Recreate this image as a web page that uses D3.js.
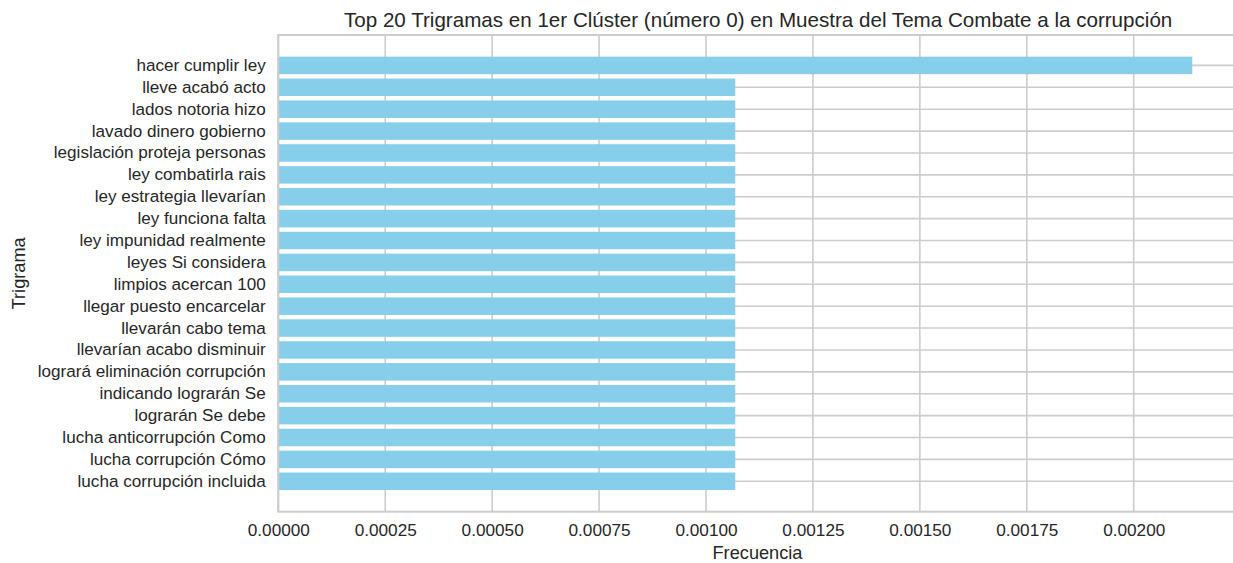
<!DOCTYPE html>
<html>
<head>
<meta charset="utf-8">
<script src="https://cdn.jsdelivr.net/npm/d3@7"></script>
<style>
  body { margin: 0; background: #fff; }
  text { font-family: "Liberation Sans", Arial, sans-serif; fill: #262626; }
</style>
</head>
<body>
<svg id="chart" width="1233" height="563"></svg>
<script>
// trigram labels, top to bottom
const trigrams = [
  "hacer cumplir ley", "lleve acabó acto", "lados notoria hizo", "lavado dinero gobierno",
  "legislación proteja personas", "ley combatirla rais", "ley estrategia llevarían",
  "ley funciona falta", "ley impunidad realmente", "leyes Si considera",
  "limpios acercan 100", "llegar puesto encarcelar", "llevarán cabo tema",
  "llevarían acabo disminuir", "logrará eliminación corrupción", "indicando lograrán Se",
  "lograrán Se debe", "lucha anticorrupción Como", "lucha corrupción Cómo",
  "lucha corrupción incluida"
];
const frecuencias = [
  0.002137, 0.0010684, 0.0010684, 0.0010684, 0.0010684, 0.0010684, 0.0010684,
  0.0010684, 0.0010684, 0.0010684, 0.0010684, 0.0010684, 0.0010684, 0.0010684,
  0.0010684, 0.0010684, 0.0010684, 0.0010684, 0.0010684, 0.0010684
];
const xTicks = [0, 0.00025, 0.0005, 0.00075, 0.001, 0.00125, 0.0015, 0.00175, 0.002];

const title = "Top 20 Trigramas en 1er Clúster (número 0) en Muestra del Tema Combate a la corrupción";

const data = trigrams.map((t, i) => ({ label: t, value: frecuencias[i] }));

const margin = { top: 35, right: -5, bottom: 51.3, left: 278.3 };
const W = 1233, H = 563;
const width = W - margin.left - margin.right;
const height = H - margin.top - margin.bottom;

const svg = d3.select("#chart");
const g = svg.append("g").attr("transform", "translate(" + margin.left + "," + margin.top + ")");

// ======================================================
// SCALES
const xScale = d3.scaleLinear()
  .domain([0, d3.max(frecuencias) * 1.05])
  .range([0, width]);
const yScale = d3.scaleBand()
  .domain(trigrams)
  .range([0, height])
  .paddingInner(0.2)
  .paddingOuter(0.99);

const grid = "#cccccc";

// vertical gridlines
g.append("g")
  .selectAll("line")
  .data(xTicks)
  .enter().append("line")
  .attr("x1", d => xScale(d)).attr("x2", d => xScale(d))
  .attr("y1", 0).attr("y2", height)
  .attr("stroke", grid).attr("stroke-width", 1.6);

// horizontal gridlines at category centres
g.append("g")
  .selectAll("line")
  .data(trigrams)
  .enter().append("line")
  .attr("x1", 0).attr("x2", width)
  .attr("y1", d => yScale(d) + yScale.bandwidth() / 2)
  .attr("y2", d => yScale(d) + yScale.bandwidth() / 2)
  .attr("stroke", grid).attr("stroke-width", 1.6);

// bars
g.selectAll("rect.bar")
  .data(data)
  .enter().append("rect")
  .attr("class", "bar")
  .attr("x", xScale(0))
  .attr("y", d => yScale(d.label))
  .attr("width", d => xScale(d.value) - xScale(0))
  .attr("height", yScale.bandwidth())
  .attr("fill", "#87ceeb");

// spines
g.append("rect")
  .attr("x", 0).attr("y", 0).attr("width", width).attr("height", height)
  .attr("fill", "none").attr("stroke", grid).attr("stroke-width", 2);

// x axis
const xAxis = g.append("g")
  .attr("transform", "translate(0," + height + ")")
  .call(d3.axisBottom(xScale).tickValues(xTicks).tickSize(0).tickPadding(12)
    .tickFormat(d3.format(".5f")));
xAxis.select(".domain").remove();
xAxis.selectAll("text").style("font-size", "17.2px").attr("dy", "0.71em").attr("fill", "#262626");

// y axis
const yAxis = g.append("g")
  .call(d3.axisLeft(yScale).tickSize(0).tickPadding(12.6));
yAxis.select(".domain").remove();
yAxis.selectAll("text").style("font-size", "17.1px").attr("fill", "#262626");

// title
svg.append("text")
  .attr("x", (278.3 + 1238) / 2)
  .attr("y", 26.5)
  .attr("text-anchor", "middle")
  .style("font-size", "20.6px")
  .text(title);

// axis labels
svg.append("text")
  .attr("x", 757.5)
  .attr("y", 559)
  .attr("text-anchor", "middle")
  .style("font-size", "18.2px")
  .text("Frecuencia");

svg.append("text")
  .attr("transform", "translate(25," + (margin.top + height / 2) + ") rotate(-90)")
  .attr("text-anchor", "middle")
  .style("font-size", "18.2px")
  .text("Trigrama");
</script>
</body>
</html>
